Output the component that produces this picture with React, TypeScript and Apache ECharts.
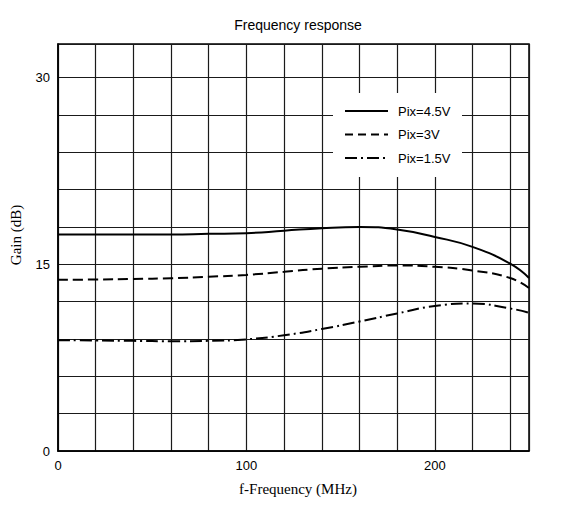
import React, { useEffect, useRef } from "react";
import * as echarts from "echarts";

const freq = [0, 20, 40, 60, 80, 100, 120, 140, 160, 180, 200, 220, 240, 250];
const gain45 = [17.4, 17.4, 17.4, 17.4, 17.45, 17.5, 17.7, 17.9, 18.0, 17.8, 17.2, 16.4, 15.05, 13.9];
const gain3 = [13.75, 13.78, 13.82, 13.88, 14.0, 14.15, 14.4, 14.65, 14.8, 14.9, 14.8, 14.5, 13.9, 13.1];
const gain15 = [8.9, 8.88, 8.85, 8.82, 8.85, 8.97, 9.3, 9.8, 10.4, 11.05, 11.65, 11.85, 11.45, 11.1];
const seriesNames = ["Pix=4.5V", "Pix=3V", "Pix=1.5V"];
const xTickLabels = [0, 100, 200];
const yTickLabels = [0, 15, 30];

const SANS = "'Liberation Sans', Arial, sans-serif";
const SERIF = "'Liberation Serif', 'Times New Roman', serif";

function pairs(ys: number[]) {
  return freq.map((f, i) => [f, ys[i]]);
}

export default function App() {
  const ref = useRef<HTMLDivElement>(null);
  useEffect(() => {
    document.body.style.margin = "0";
    if (!ref.current) return;
    const chart = echarts.init(ref.current, null, { renderer: "svg" });
    const lineTypes: any[] = ["solid", [10, 5], [12, 4, 2, 4]];
    const legendDash: any[] = [null, [8, 5], [12, 4, 2, 4]];
    const datasets = [gain45, gain3, gain15];
    const legendRows = [111, 134.5, 158];
    const legendGraphics: any[] = [
      {
        type: "rect",
        shape: { x: 333, y: 93, width: 129, height: 84 },
        style: { fill: "#fff" },
        z: 100,
      },
    ];
    seriesNames.forEach((name, i) => {
      legendGraphics.push({
        type: "line",
        shape: { x1: 345, y1: legendRows[i], x2: 388, y2: legendRows[i] },
        style: { stroke: "#000", lineWidth: 2, lineDash: legendDash[i] },
        z: 101,
      });
      legendGraphics.push({
        type: "text",
        x: 398,
        y: legendRows[i],
        style: {
          text: name,
          fontFamily: SANS,
          fontSize: 13,
          fill: "#000",
          textAlign: "left",
          textVerticalAlign: "middle",
        },
        z: 101,
      });
    });
    chart.setOption({
      animation: false,
      backgroundColor: "#fff",
      grid: {
        left: 58,
        right: 56,
        top: 44,
        bottom: 57,
        show: true,
        borderColor: "#000",
        borderWidth: 1.5,
        backgroundColor: "transparent",
      },
      graphic: [
        {
          type: "text",
          x: 298,
          y: 25,
          style: {
            text: "Frequency response",
            fontFamily: SANS,
            fontSize: 14,
            fill: "#000",
            textAlign: "center",
            textVerticalAlign: "middle",
          },
        },
        {
          type: "text",
          x: 298,
          y: 489,
          style: {
            text: "f-Frequency (MHz)",
            fontFamily: SERIF,
            fontSize: 15,
            fill: "#000",
            textAlign: "center",
            textVerticalAlign: "middle",
          },
        },
        {
          type: "text",
          x: 16,
          y: 235,
          rotation: Math.PI / 2,
          style: {
            text: "Gain (dB)",
            fontFamily: SERIF,
            fontSize: 15,
            fill: "#000",
            textAlign: "center",
            textVerticalAlign: "middle",
          },
        },
        ...legendGraphics,
      ],
      xAxis: {
        type: "value",
        min: 0,
        max: 250,
        interval: 20,
        axisLine: { show: true, lineStyle: { color: "#000", width: 1.5 } },
        axisTick: { show: false },
        axisLabel: {
          margin: 8,
          fontFamily: SANS,
          fontSize: 13,
          color: "#000",
          showMaxLabel: false,
          formatter: (v: number) => (xTickLabels.includes(v) ? String(v) : ""),
        },
        splitLine: { show: true, lineStyle: { color: "#1a1a1a", width: 1.2 } },
      },
      yAxis: {
        type: "value",
        min: 0,
        max: 32.7,
        interval: 3,
        axisLine: { show: true, lineStyle: { color: "#000", width: 1.5 } },
        axisTick: { show: false },
        axisLabel: {
          margin: 8,
          fontFamily: SANS,
          fontSize: 13,
          color: "#000",
          showMaxLabel: false,
          formatter: (v: number) => (yTickLabels.includes(v) ? String(v) : ""),
        },
        splitLine: { show: true, lineStyle: { color: "#1a1a1a", width: 1.2 } },
      },
      series: seriesNames.map((name, i) => ({
        name,
        type: "line",
        data: pairs(datasets[i]),
        smooth: true,
        symbol: "none",
        showSymbol: false,
        lineStyle: { color: "#000", width: 2, type: lineTypes[i] },
        itemStyle: { color: "#000" },
        z: 3,
      })),
    });
    return () => chart.dispose();
  }, []);
  return <div ref={ref} style={{ width: 585, height: 508 }} />;
}
